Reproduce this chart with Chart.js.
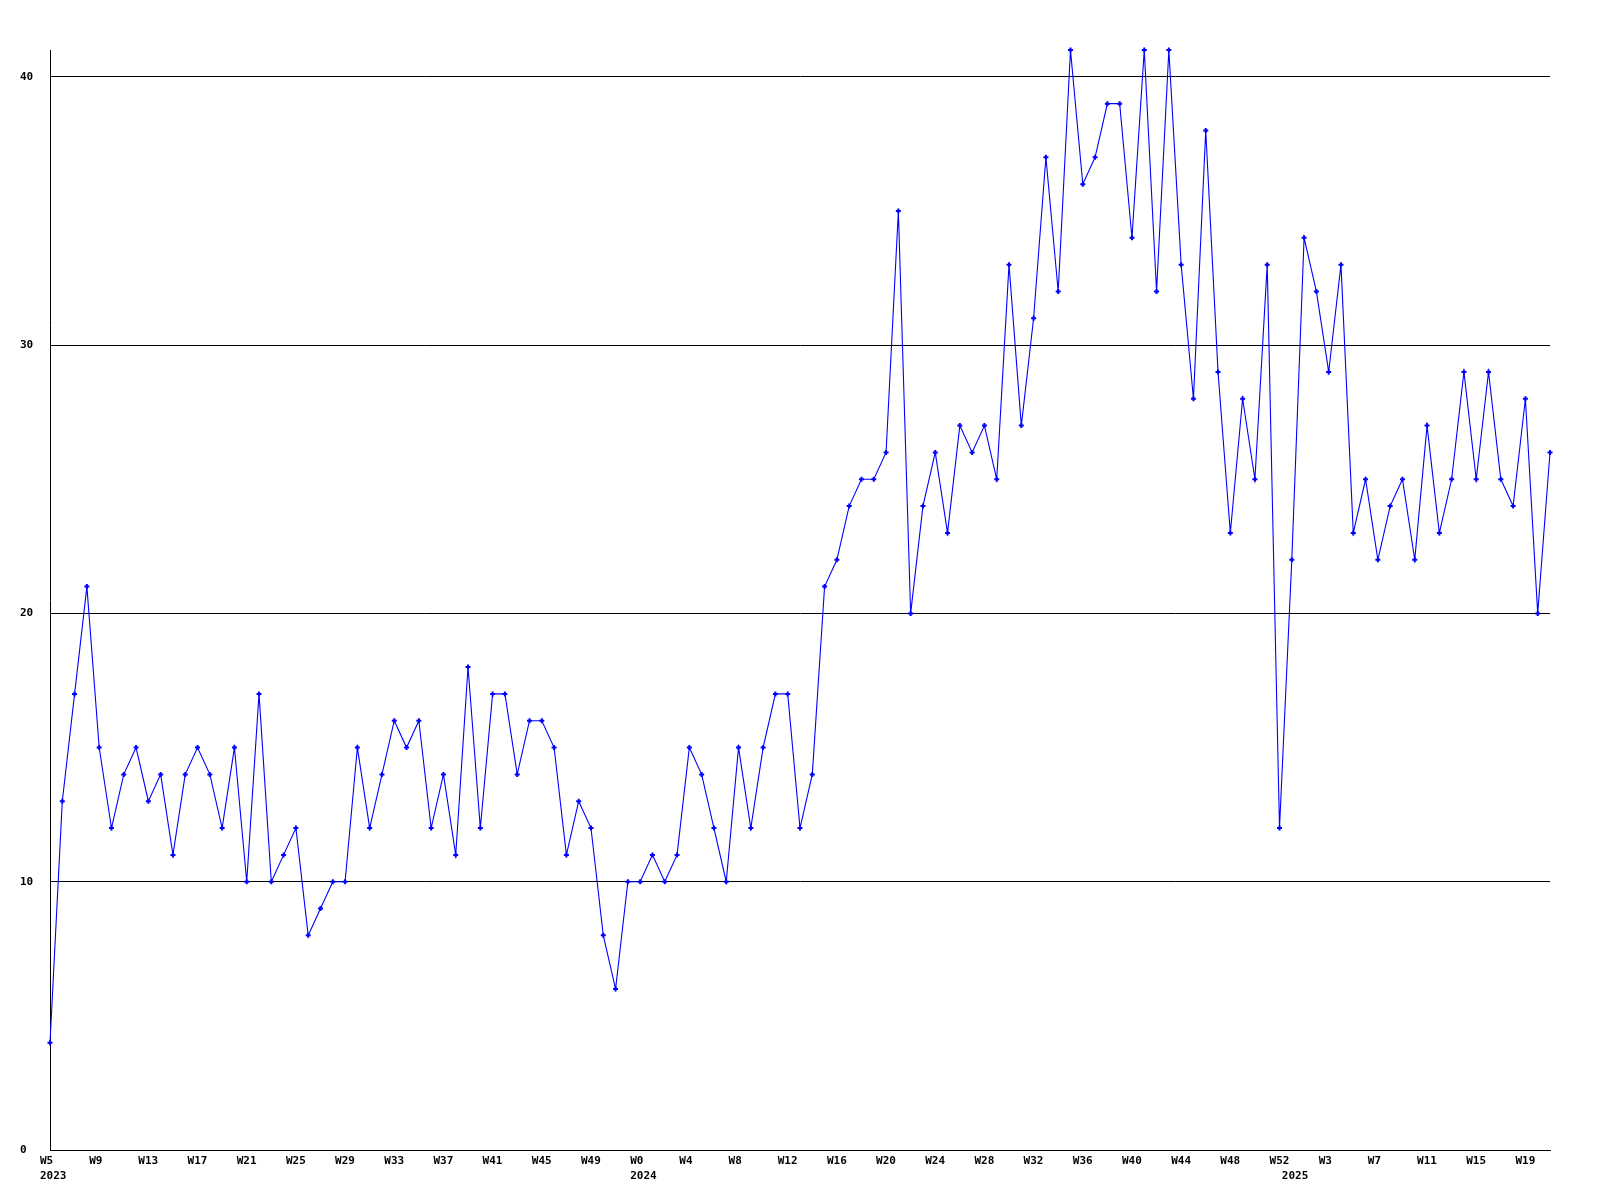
<!DOCTYPE html>
<html lang="en">
<head>
    <meta charset="UTF-8">
    <title>Weekly counts</title>
    <script src="https://cdn.jsdelivr.net/npm/chart.js@4.4.0/dist/chart.umd.min.js"></script>
    <style>
      html, body { margin: 0; padding: 0; background: #fff; }
    </style>
</head>
<body>
  <canvas id="myChart" width="1600" height="1200"></canvas>

  <script>
    // week ranges per year: [year, first week, last week]
    const weekRanges = [[2023, 5, 52], [2024, 0, 52], [2025, 0, 21]]

    const values = [
      4, 13, 17, 21, 15, 12, 14, 15, 13, 14,
      11, 14, 15, 14, 12, 15, 10, 17, 10, 11,
      12, 8, 9, 10, 10, 15, 12, 14, 16, 15,
      16, 12, 14, 11, 18, 12, 17, 17, 14, 16,
      16, 15, 11, 13, 12, 8, 6, 10, 10, 11,
      10, 11, 15, 14, 12, 10, 15, 12, 15, 17,
      17, 12, 14, 21, 22, 24, 25, 25, 26, 35,
      20, 24, 26, 23, 27, 26, 27, 25, 33, 27,
      31, 37, 32, 41, 36, 37, 39, 39, 34, 41,
      32, 41, 33, 28, 38, 29, 23, 28, 25, 33,
      12, 22, 34, 32, 29, 33, 23, 25, 22, 24,
      25, 22, 27, 23, 25, 29, 25, 29, 25, 24,
      28, 20, 26
    ]

    const yTicks = [0, 10, 20, 30, 40]

    const weeks = []
    const years = []
    weekRanges.forEach(([y, from, to]) => {
      for (let w = from; w <= to; w++) {
        weeks.push('W' + w)
        years.push(w === from ? String(y) : '')
      }
    })

    const font = { family: '"DejaVu Sans Mono", monospace', size: 11, weight: 'bold', lineHeight: '15px' }

    const ctx = document.getElementById('myChart').getContext('2d')
    new Chart(ctx, {
      type: 'line',
      data: {
        labels: weeks,
        datasets: [{
          data: values,
          borderColor: '#0000ff',
          backgroundColor: '#0000ff',
          borderWidth: 1.1,
          tension: 0,
          clip: false,
          pointStyle: 'cross',
          pointRadius: 2.5,
          pointBorderWidth: 2,
          pointBorderColor: '#0000ff'
        }]
      },
      options: {
        responsive: false,
        animation: false,
        devicePixelRatio: 1,
        layout: { padding: { left: 20, top: 50, right: 50, bottom: 0 } },
        plugins: { legend: { display: false }, tooltip: { enabled: false } },
        scales: {
          x: {
            offset: false,
            afterFit: s => { s.height = 50 },
            grid: { color: 'transparent', drawTicks: false },
            border: { display: true, color: '#000', width: 1 },
            ticks: {
              autoSkip: false,
              maxRotation: 0,
              minRotation: 0,
              align: 'start',
              labelOffset: -10,
              padding: 4,
              color: '#000',
              font: font,
              callback: function(value, index) {
                const wk = index % 4 === 0 ? weeks[index] : ''
                const yr = years[index]
                if (!wk && !yr) return ''
                return yr ? [wk, yr] : wk
              }
            }
          },
          y: {
            min: 0,
            max: 41,
            afterFit: s => { s.width = 30 },
            afterBuildTicks: s => { s.ticks = yTicks.map(v => ({ value: v })) },
            grid: { color: '#000', lineWidth: 1, drawTicks: false },
            border: { display: true, color: '#000', width: 1 },
            ticks: {
              crossAlign: 'far',
              padding: 0,
              color: '#000',
              font: font
            }
          }
        }
      }
    })
  </script>
</body>
</html>
